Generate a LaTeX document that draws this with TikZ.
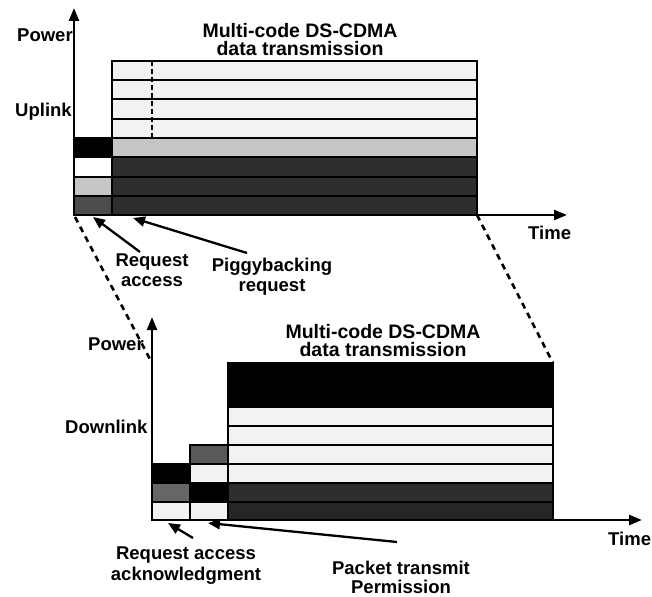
\documentclass[tikz,border=0pt]{standalone}
\usepackage{fontspec}
\setmainfont{Liberation Sans}
\usetikzlibrary{arrows.meta}
\tikzset{
  axisarrow/.style={line width=2.5pt,-{Triangle[length=13pt,width=10pt]}},
  pointer/.style={line width=2.3pt,-{Triangle[length=12pt,width=10pt]}},
  zoomline/.style={line width=2.6pt,dash pattern=on 6pt off 5pt},
  cell/.style={draw=black,line width=2pt},
  lbl/.style={font=\bfseries\fontsize{18.5}{20}\selectfont,inner sep=0pt},
  ttl/.style={font=\bfseries\fontsize{19.5}{18.5}\selectfont,inner sep=0pt,align=center,anchor=north},
  lightc/.style={fill=gray!10},
  midc/.style={fill=gray!45},
  darkc/.style={fill=black!82},
  blackc/.style={fill=black},
}
\begin{document}
\begin{tikzpicture}[x=1pt,y=-1pt]
\useasboundingbox (0,0) rectangle (652,596);
% ---------------- Uplink ----------------
\foreach \t/\s in {61/lightc,80.25/lightc,99.5/lightc,118.75/lightc,138/midc,157.25/darkc,176.5/darkc,195.75/darkc}{
  \path[cell,\s] (112,\t) rectangle (477,\t+19.25);
}
\draw[line width=1.6pt,dash pattern=on 5pt off 3pt] (152,61) -- (152,138);
% left column
\path[cell,blackc] (74,138) rectangle (112,157.25);
\path[cell,fill=white] (74,157.25) rectangle (112,176.5);
\path[cell,midc] (74,176.5) rectangle (112,195.75);
\path[cell,fill=black!70] (74,195.75) rectangle (112,215);
% axes
\coordinate (uo) at (74,215);
\coordinate (uy) at (74,8);
\coordinate (ux) at (567,215);
\coordinate (ubr) at (477,215);
\draw[axisarrow] (uo) -- (uy);
\draw[axisarrow] (uo) -- (ux);
\node[lbl,anchor=base west] (upow) at (17,42) {Power};
\node[lbl,anchor=base west] (uplk) at (15,117) {Uplink};
\node[lbl,anchor=base west] (utime) at (528,239) {Time};
\node[ttl] (utitle) at (300,23) {Multi-code DS-CDMA\\data transmission};
% pointers
\node[ttl,font=\bfseries\fontsize{18.5}{20}\selectfont] (reqacc) at (152,254) {Request\\access};
\node[ttl,font=\bfseries\fontsize{18.5}{20}\selectfont] (piggy) at (272,258) {Piggybacking\\request};
\coordinate (ra0) at (140,252);
\coordinate (ra1) at (93,217);
\coordinate (pg0) at (247,253);
\coordinate (pg1) at (133,218);
\draw[pointer] (ra0) -- (ra1);
\draw[pointer] (pg0) -- (pg1);
% ---------------- Downlink ----------------
\path[cell,blackc] (228,363) rectangle (553,407);
\foreach \t in {407,426,445,464}{
  \path[cell,lightc] (228,\t) rectangle (553,\t+19);
}
\path[cell,darkc] (228,483) rectangle (553,501.5);
\path[cell,fill=black!85] (228,501.5) rectangle (553,520);
% left columns
\path[cell,blackc] (152,464) rectangle (190,483);
\path[cell,fill=black!60] (152,483) rectangle (190,501.5);
\path[cell,lightc] (152,501.5) rectangle (190,520);
\path[cell,fill=black!65] (190,445) rectangle (228,464);
\path[cell,lightc] (190,464) rectangle (228,483);
\path[cell,blackc] (190,483) rectangle (228,501.5);
\path[cell,lightc] (190,501.5) rectangle (228,520);
% axes
\coordinate (do) at (152,520);
\coordinate (dy) at (152,317);
\coordinate (dx) at (642,520);
\coordinate (dtl) at (152,363);
\coordinate (dtr) at (553,363);
\draw[axisarrow] (do) -- (dy);
\draw[axisarrow] (do) -- (dx);
\node[lbl,anchor=base west] (dpow) at (88,350) {Power};
\node[lbl,anchor=base west] (dlk) at (65,433) {Downlink};
\node[lbl,anchor=base west] (dtime) at (608,545) {Time};
\node[ttl] (dtitle) at (383,324) {Multi-code DS-CDMA\\data transmission};
\node[ttl,font=\bfseries\fontsize{18.5}{21}\selectfont] (ack) at (186,547) {Request access\\acknowledgment};
\node[ttl,font=\bfseries\fontsize{18.5}{18.5}\selectfont] (perm) at (401,561) {Packet transmit\\Permission};
\coordinate (ak0) at (193,538);
\coordinate (ak1) at (168,523);
\coordinate (pm0) at (397,542);
\coordinate (pm1) at (208,523);
\draw[pointer] (ak0) -- (ak1);
\draw[pointer] (pm0) -- (pm1);
% zoom lines
\coordinate (ul) at (75,217);
\draw[zoomline] (ul) -- (dtl);
\draw[zoomline] (ubr) -- (dtr);
\end{tikzpicture}
\end{document}
